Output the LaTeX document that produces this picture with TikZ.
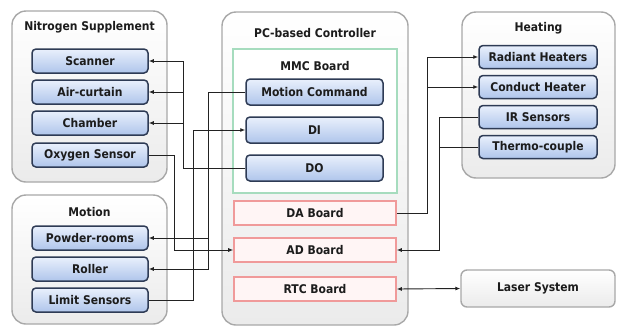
\documentclass[tikz,border=0pt]{standalone}
\usepackage{fontspec}
\newfontfamily\lblfont{DejaVu Sans Condensed Bold}
\usetikzlibrary{arrows.meta}
\definecolor{itemtop}{HTML}{E9F0FC}
\definecolor{itembot}{HTML}{AFC5EB}
\definecolor{itemline}{HTML}{2E3B55}
\definecolor{grpline}{HTML}{A8A8A8}
\definecolor{grpbot}{HTML}{EBEBEB}
\definecolor{boardline}{HTML}{F09A9A}
\definecolor{boardfill}{HTML}{FFF5F5}
\definecolor{mmcline}{HTML}{A6DCBE}
\definecolor{connc}{HTML}{222222}
\definecolor{txt}{HTML}{1C1C1C}
\begin{document}
\begin{tikzpicture}[x=1pt,y=-1pt,
  lbl/.style={font=\lblfont\fontsize{12}{14}\selectfont, text=txt},
  grp/.style={draw=grpline, line width=1.4pt, rounded corners=14pt, top color=white, bottom color=grpbot, inner sep=0pt},
  item/.style={lbl, draw=itemline, line width=1.5pt, rounded corners=4pt, top color=itemtop, bottom color=itembot, minimum width=116pt, minimum height=24pt, inner sep=0pt},
  citem/.style={item, minimum width=137pt, minimum height=26pt},
  hitem/.style={item, minimum width=118pt, minimum height=23pt},
  board/.style={lbl, draw=boardline, line width=1.6pt, fill=boardfill, minimum width=162pt, minimum height=24pt, inner sep=0pt},
  ttl/.style={lbl, inner sep=0pt},
  conn/.style={draw=connc, line width=0.9pt},
  tip/.style={-{Latex[length=5pt,width=4pt]}},
  tips/.style={{Latex[length=5pt,width=4pt]}-{Latex[length=5pt,width=4pt]}}
]
\useasboundingbox (0,0) rectangle (618,327);
% group boxes
\node[grp, minimum width=155pt, minimum height=171pt] (nsg) at (89.5,96.5) {};
\node[grp, minimum width=155pt, minimum height=129pt] (mog) at (89.5,259.5) {};
\node[grp, minimum width=186pt, minimum height=313pt] (pcg) at (315,168.5) {};
\node[grp, minimum width=153pt, minimum height=166pt] (htg) at (538.5,95) {};
\node[draw=mmcline, line width=1.6pt, fill=white, minimum width=164pt, minimum height=144pt, inner sep=0pt] (mmc) at (315,121) {};
% titles
\node[ttl] (tns) at (89.5,27) {Nitrogen Supplement};
\node[ttl] (tmo) at (89.5,212) {Motion};
\node[ttl] (tpc) at (315,33) {PC-based Controller};
\node[ttl] (tmm) at (315,66) {MMC Board};
\node[ttl] (tht) at (538.5,28) {Heating};
% left items
\node[item] (scan) at (90,61) {Scanner};
\node[item] (air) at (90,92) {Air-curtain};
\node[item] (cham) at (90,123) {Chamber};
\node[item] (oxy) at (90,155) {Oxygen Sensor};
\node[item] (pow) at (90,238) {Powder-rooms};
\node[item] (roll) at (90,269) {Roller};
\node[item] (lim) at (90,300) {Limit Sensors};
% controller items
\node[citem] (mc) at (314.5,92) {Motion Command};
\node[citem] (di) at (314.5,130) {DI};
\node[citem] (do) at (314.5,168) {DO};
\node[board] (da) at (315,213) {DA Board};
\node[board] (ad) at (315,250) {AD Board};
\node[board] (rtc) at (315,289) {RTC Board};
% heating items
\node[hitem] (rad) at (538,57) {Radiant Heaters};
\node[hitem] (cond) at (538,87) {Conduct Heater};
\node[hitem] (ir) at (538,117) {IR Sensors};
\node[hitem] (th) at (538,147) {Thermo-couple};
% laser
\node[lbl, draw=grpline, line width=1.4pt, rounded corners=6pt, top color=white, bottom color=grpbot, minimum width=154pt, minimum height=37pt, inner sep=0pt] (laser) at (538,288.5) {Laser System};
% junction x positions
\coordinate (jA) at (183,0);
\coordinate (jB) at (174,0);
\coordinate (jC) at (193,0);
\coordinate (jD) at (208,0);
\coordinate (jE) at (427,0);
\coordinate (jF) at (439,0);
% connectors
\draw[conn,tip] (do.west) -- (do.west -| jA) |- (scan.east);
\draw[conn,tip] (air.east -| jA) -- (air.east);
\draw[conn,tip] (cham.east -| jA) -- (cham.east);
\draw[conn,tip] (oxy.east) -- (oxy.east -| jB) |- (ad.west);
\draw[conn,tip] (lim.east) -- (lim.east -| jC) |- (di.west);
\draw[conn,tip] (mc.west) -- (mc.west -| jD) |- (roll.east);
\draw[conn,tip] (pow.east -| jD) -- (pow.east);
\draw[conn,tip] (da.east) -- (da.east -| jE) |- (rad.west);
\draw[conn,tip] (cond.west -| jE) -- (cond.west);
\draw[conn,tip] (ir.west) -- (ir.west -| jF) |- (ad.east);
\draw[conn] (th.west) -- (th.west -| jF);
\draw[conn,tips] (rtc.east) -- (laser.west);
\end{tikzpicture}
\end{document}
